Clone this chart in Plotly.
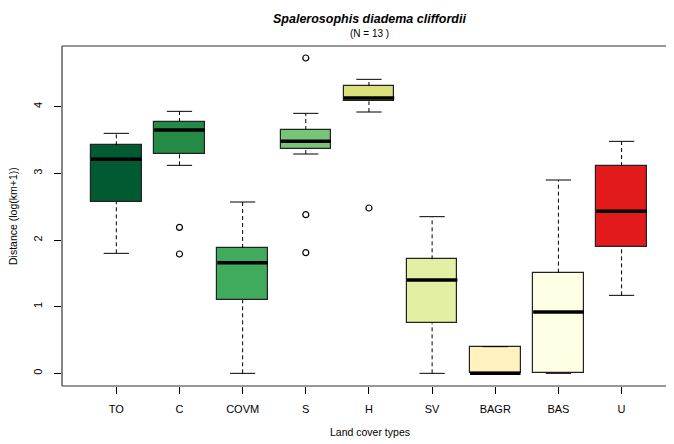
import plotly.graph_objects as go

categories = ["TO", "C", "COVM", "S", "H", "SV", "BAGR", "BAS", "U"]
lower_whisker = [1.80, 3.12, 0.00, 3.29, 3.92, 0.00, 0.00, 0.00, 1.17]
q1 = [2.57, 3.29, 1.10, 3.36, 4.08, 0.75, 0.00, 0.00, 1.89]
median = [3.21, 3.65, 1.66, 3.48, 4.13, 1.40, 0.00, 0.92, 2.43]
q3 = [3.42, 3.77, 1.88, 3.65, 4.31, 1.71, 0.40, 1.51, 3.11]
upper_whisker = [3.60, 3.93, 2.57, 3.90, 4.41, 2.35, 0.40, 2.90, 3.48]
outlier_cat = ["C", "C", "S", "S", "S", "H"]
outlier_val = [2.19, 1.79, 4.73, 2.38, 1.81, 2.48]
box_colors = ["#005a32", "#238b45", "#41ab5d", "#77c678", "#d8df7b",
              "#e3f0a3", "#fff2bf", "#ffffe5", "#e31a1c"]

y_ticks = [0, 1, 2, 3, 4]
title_text = "Spalerosophis diadema cliffordii"
subtitle_text = "(N = 13 )"
x_title = "Land cover types"
y_title = "Distance (log(km+1))"

FONT = "Liberation Sans, Arial, Helvetica, sans-serif"
pos = list(range(1, len(categories) + 1))
BW = 0.8
CAP = 0.2

fig = go.Figure()

# whiskers (dashed)
wx, wy = [], []
for p, lo, a, b, hi in zip(pos, lower_whisker, q1, q3, upper_whisker):
    wx += [p, p, None, p, p, None]
    wy += [b, hi, None, lo, a, None]
fig.add_trace(go.Scatter(x=wx, y=wy, mode="lines",
                         line=dict(color="black", width=1, dash="4px,3px"),
                         hoverinfo="skip", showlegend=False))
# caps
cx, cy = [], []
for p, lo, hi in zip(pos, lower_whisker, upper_whisker):
    cx += [p - CAP, p + CAP, None, p - CAP, p + CAP, None]
    cy += [hi, hi, None, lo, lo, None]
fig.add_trace(go.Scatter(x=cx, y=cy, mode="lines",
                         line=dict(color="black", width=1),
                         hoverinfo="skip", showlegend=False))
# boxes
fig.add_trace(go.Bar(x=pos, base=q1, y=[b - a for a, b in zip(q1, q3)],
                     width=BW, marker=dict(color=box_colors,
                                           line=dict(color="#222222", width=1.2)),
                     hoverinfo="skip", showlegend=False))
# medians
mx, my = [], []
for p, m in zip(pos, median):
    mx += [p - BW / 2, p + BW / 2, None]
    my += [m, m, None]
fig.add_trace(go.Scatter(x=mx, y=my, mode="lines",
                         line=dict(color="black", width=3.5),
                         hoverinfo="skip", showlegend=False))
# outliers
fig.add_trace(go.Scatter(x=[categories.index(c) + 1 for c in outlier_cat],
                         y=outlier_val, mode="markers",
                         marker=dict(symbol="circle-open", size=6,
                                     color="black", line=dict(width=1.2)),
                         hoverinfo="skip", showlegend=False))

frame = dict(color="#333333", width=1.2)
fig.update_layout(
    width=666, height=436,
    margin=dict(l=54, r=0, t=38, b=58),
    paper_bgcolor="white", plot_bgcolor="white",
    font=dict(family=FONT, size=11, color="black"),
    bargap=0,
    xaxis=dict(range=[0.14, 9.83], tickvals=pos, ticktext=categories,
               showgrid=False, zeroline=False, showline=False,
               ticks="outside", ticklen=7, tickcolor="black", tickwidth=1,
               ticklabelstandoff=6, tickfont=dict(size=11)),
    yaxis=dict(range=[-0.19, 4.91], tickvals=y_ticks,
               showgrid=False, zeroline=False, showline=False,
               ticks="outside", ticklen=7, tickcolor="black", tickwidth=1,
               tickangle=-90, ticklabelstandoff=8, tickfont=dict(size=11)),
    shapes=[
        dict(type="line", xref="paper", yref="paper", x0=0, x1=0, y0=0, y1=1, line=frame),
        dict(type="line", xref="paper", yref="paper", x0=0, x1=1.01, y0=1, y1=1, line=frame),
        dict(type="line", xref="paper", yref="paper", x0=0, x1=1.01, y0=0, y1=0, line=frame),
    ],
    annotations=[
        dict(text="<b><i>" + title_text + "</i></b>", xref="paper", yref="paper",
             x=0.503, y=1, yshift=27, xanchor="center", yanchor="middle",
             showarrow=False, font=dict(size=12.5)),
        dict(text=subtitle_text, xref="paper", yref="paper",
             x=0.503, y=1, yshift=13, xanchor="center", yanchor="middle",
             showarrow=False, font=dict(size=10)),
        dict(text=x_title, xref="paper", yref="paper",
             x=0.503, y=0, yshift=-46, xanchor="center", yanchor="middle",
             showarrow=False, font=dict(size=10.5)),
        dict(text=y_title, xref="paper", yref="paper",
             x=0, xshift=-49, y=0.5, xanchor="center", yanchor="middle",
             textangle=-90, showarrow=False, font=dict(size=10.5)),
    ],
)

fig.write_html("out.html")
